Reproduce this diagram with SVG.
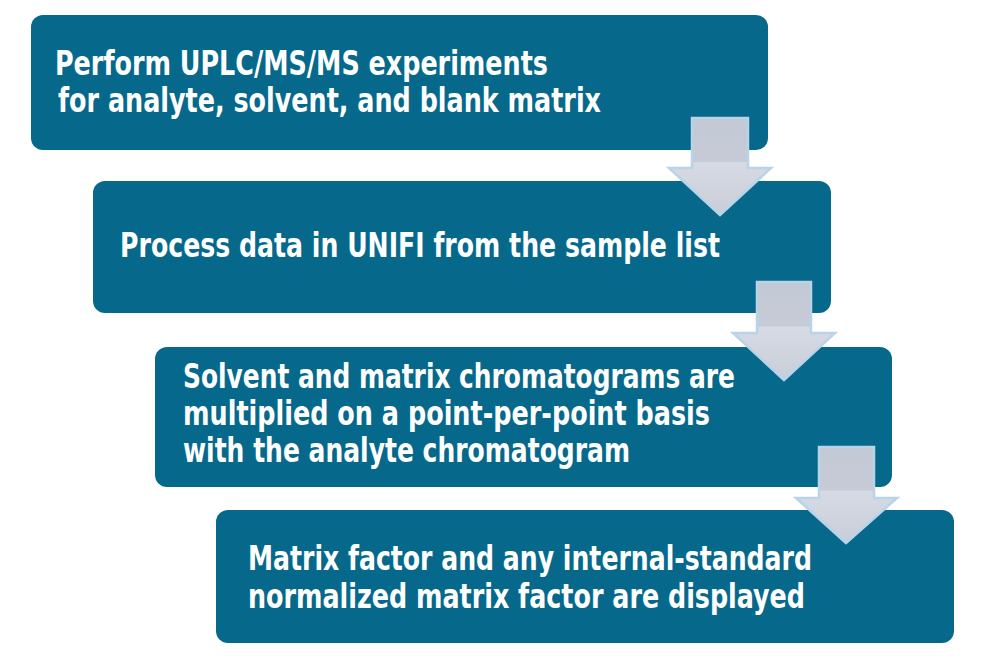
<svg xmlns="http://www.w3.org/2000/svg" width="983" height="663" viewBox="0 0 983 663">
<defs>
<linearGradient id="ag" x1="0" y1="0" x2="0" y2="1">
<stop offset="0" stop-color="#c3c8d5"/>
<stop offset="0.45" stop-color="#c6cbd7"/>
<stop offset="0.46" stop-color="#d6dae4"/>
<stop offset="0.6" stop-color="#d3d7e1"/>
<stop offset="1" stop-color="#c8cdd9"/>
</linearGradient>
<style>
.box{fill:#06698b;}
.arr{fill:url(#ag);stroke:#b9d3e8;stroke-width:2.5;stroke-linejoin:miter;}
.t{font-family:"DejaVu Sans Condensed","DejaVu Sans",sans-serif;font-weight:bold;font-size:34px;fill:#ffffff;}
</style>
</defs>
<rect width="983" height="663" fill="#ffffff"/>
<g id="node1">
<rect class="box" x="31" y="15" width="737" height="135" rx="12"/>
<text class="t" x="55" y="75" textLength="493" lengthAdjust="spacingAndGlyphs">Perform UPLC/MS/MS experiments</text>
<text class="t" x="58" y="112" textLength="543" lengthAdjust="spacingAndGlyphs">for analyte, solvent, and blank matrix</text>
</g>
<g id="node2">
<rect class="box" x="93" y="181" width="738" height="132" rx="12"/>
<text class="t" x="120" y="257" textLength="600" lengthAdjust="spacingAndGlyphs">Process data in UNIFI from the sample list</text>
</g>
<g id="node3">
<rect class="box" x="155" y="347" width="737" height="140" rx="12"/>
<text class="t" x="183" y="388" textLength="552" lengthAdjust="spacingAndGlyphs">Solvent and matrix chromatograms are</text>
<text class="t" x="183" y="425" textLength="527" lengthAdjust="spacingAndGlyphs">multiplied on a point-per-point basis</text>
<text class="t" x="183" y="462" textLength="447" lengthAdjust="spacingAndGlyphs">with the analyte chromatogram</text>
</g>
<g id="node4">
<rect class="box" x="216" y="510" width="738" height="133" rx="12"/>
<text class="t" x="248" y="570" textLength="564" lengthAdjust="spacingAndGlyphs">Matrix factor and any internal-standard</text>
<text class="t" x="248" y="608" textLength="557" lengthAdjust="spacingAndGlyphs">normalized matrix factor are displayed</text>
</g>
<g id="connectors">
<polygon class="arr" points="692,118 748,118 748,168 771,168 720,215 669,168 692,168"/>
<polygon class="arr" points="757,282 811,282 811,333 835,333 784,380 733,333 757,333"/>
<polygon class="arr" points="819,447 874,447 874,498 897,498 846,543 796,498 819,498"/>
</g>
</svg>
